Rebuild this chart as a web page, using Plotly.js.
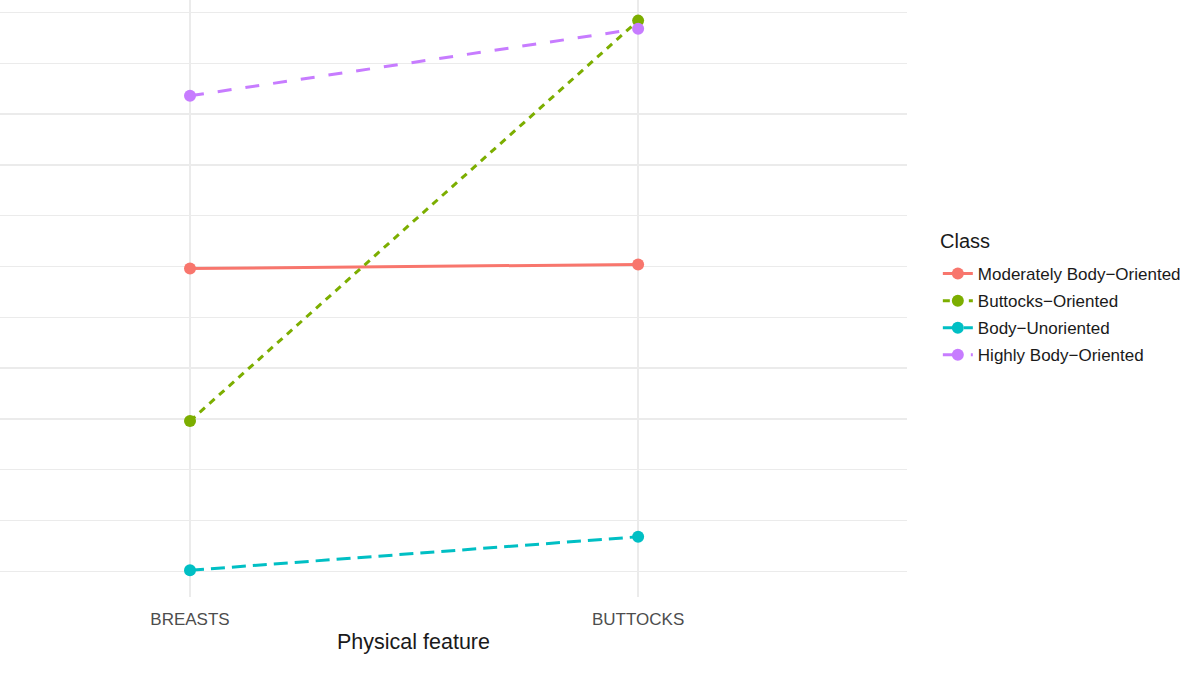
<!DOCTYPE html>
<html>
<head>
<meta charset="utf-8">
<script src="https://cdn.plot.ly/plotly-3.0.1.min.js"></script>
<style>
  html, body { margin: 0; padding: 0; background: #fff; }
  #chart { width: 1200px; height: 675px; }
</style>
</head>
<body>
<div id="chart"></div>
<script>
// physical features on the x axis
const features = ['BREASTS', 'BUTTOCKS']

// latent classes (ggplot default hue palette)
const classNames = ['Moderately Body\u2212Oriented', 'Buttocks\u2212Oriented', 'Body\u2212Unoriented', 'Highly Body\u2212Oriented']
const classColors = ['#F8766D', '#7CAE00', '#00BFC4', '#C77CFF']
const classDashes = ['solid', '7px,6px', '14px,7px', '14px,14px']

// estimated values per class
const moderately = [0.298, 0.302]
const buttocks = [0.148, 0.542]
const unoriented = [0.001, 0.034]
const highly = [0.468, 0.534]

const seriesValues = [moderately, buttocks, unoriented, highly]

const data = seriesValues.map((vals, i) => ({
    type: 'scatter',
    mode: 'lines+markers',
    name: classNames[i],
    legendgroup: 'g' + i,
    x: features,
    y: vals,
    line: { color: classColors[i], width: 3, dash: classDashes[i] },
    marker: { color: classColors[i], size: 12 },
    cliponaxis: false
}))

// the panel is cut off on the left, so the titles are placed by hand
const layout = {
    width: 1200,
    height: 675,
    margin: { l: 0, r: 293, t: 0, b: 78 },
    paper_bgcolor: '#ffffff',
    plot_bgcolor: '#ffffff',
    font: { family: 'Liberation Sans, Arial, sans-serif', color: '#1a1a1a' },
    xaxis: {
        type: 'category',
        range: [-0.424, 1.6],
        showgrid: true,
        gridcolor: '#ebebeb',
        gridwidth: 1.3,
        zeroline: false,
        showline: false,
        ticks: '',
        ticklabelstandoff: 10,
        tickfont: { size: 17, color: '#4d4d4d' }
    },
    yaxis: {
        range: [-0.0253, 0.5623],
        tick0: 0,
        dtick: 0.05,
        showgrid: true,
        gridcolor: '#ebebeb',
        gridwidth: 1.3,
        zeroline: false,
        showline: false,
        showticklabels: false,
        ticks: ''
    },
    annotations: [
        {
            text: 'Physical feature',
            xref: 'paper', yref: 'paper',
            x: 0.4554, y: -0.0754,
            xanchor: 'center', yanchor: 'middle',
            showarrow: false,
            font: { size: 21.5, color: '#1a1a1a' }
        },
        {
            text: 'Class',
            xref: 'paper', yref: 'paper',
            x: 1.034, y: 0.5963,
            xanchor: 'left', yanchor: 'middle',
            showarrow: false,
            font: { size: 20, color: '#1a1a1a' }
        }
    ],
    showlegend: true,
    legend: {
        x: 1.034,
        xanchor: 'left',
        y: 0.5712,
        yanchor: 'top',
        font: { size: 17, color: '#1a1a1a' },
        itemwidth: 30,
        tracegroupgap: 2
    }
}

Plotly.newPlot('chart', data, layout, { displayModeBar: false, staticPlot: true })
</script>
</body>
</html>
